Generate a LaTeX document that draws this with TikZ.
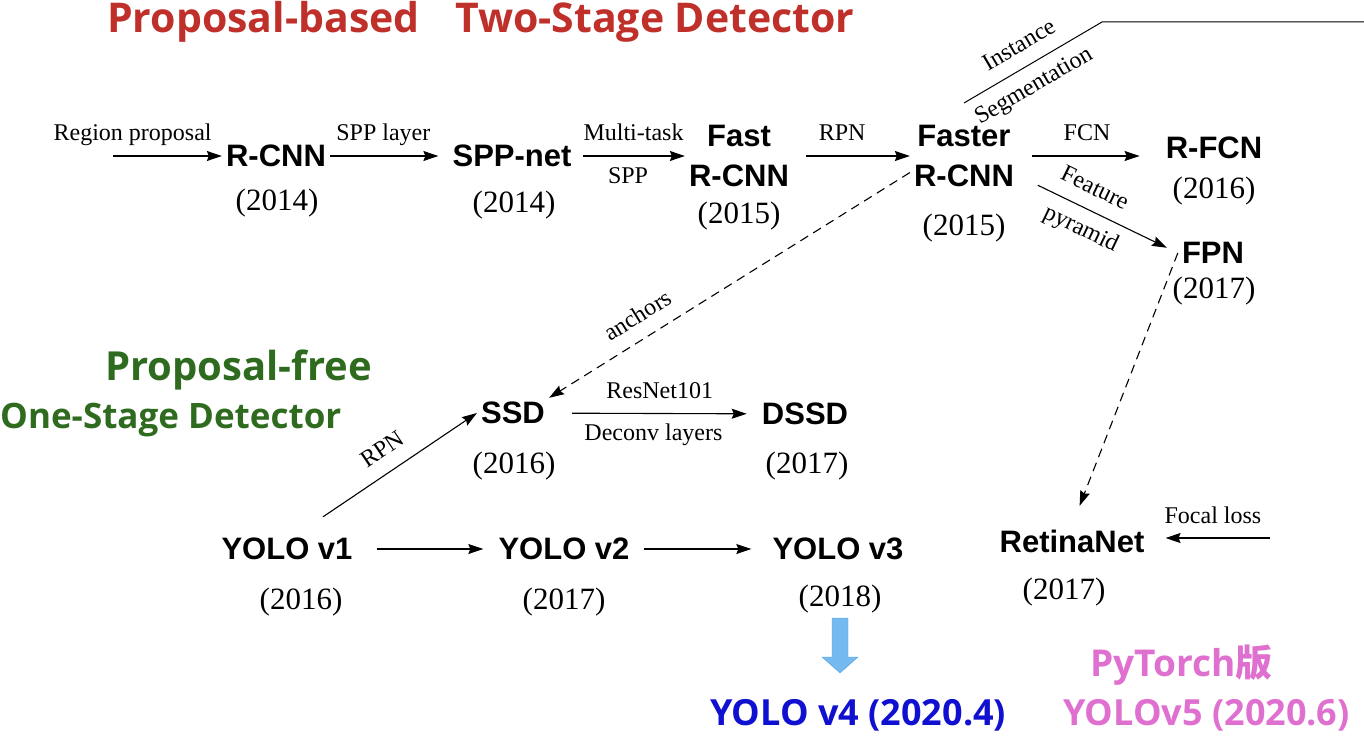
\documentclass[tikz,border=0pt]{standalone}
\usepackage{fontspec}
\setmainfont{Liberation Serif}
\setsansfont{Liberation Sans}
\newfontfamily\headfont{Open Sans}
\newfontfamily\cjkfont{Noto Sans CJK SC Bold}
\usetikzlibrary{arrows.meta}

\definecolor{headred}{HTML}{C0302A}
\definecolor{headgreen}{HTML}{2E6B1F}
\definecolor{vfourblue}{HTML}{1010D0}
\definecolor{vfivepink}{HTML}{E070D0}
\definecolor{fatblue}{HTML}{74BAF0}
\definecolor{fatedge}{HTML}{5AA0E0}

\tikzset{
  model/.style={font=\sffamily\bfseries\fontsize{31}{40}\selectfont, align=center, inner sep=4pt},
  year/.style={font=\fontsize{31}{31}\selectfont},
  lbl/.style={font=\fontsize{24}{24}\selectfont, inner sep=2pt, outer sep=8pt,
    text height=17pt, text depth=5pt},
  head/.style={font=\headfont\bfseries\fontsize{#1}{#1}\selectfont, anchor=base west, inner sep=0pt},
  head/.default=41,
  arr/.style={-{Stealth[length=15pt,width=10pt,inset=2pt]}, line width=1.1pt},
  dasharr/.style={arr, dash pattern=on 9pt off 6pt},
}

\begin{document}
\begin{tikzpicture}[x=1pt, y=-1pt]
  \useasboundingbox (0,0) rectangle (1364,738);

  % headings
  \node[head, text=headred] (pbased) at (107,33) {Proposal-based};
  \node[head, text=headred] (twostage) at (455,33) {Two-Stage Detector};
  \node[head=40, text=headgreen] (pfree) at (105,380) {Proposal-free};
  \node[head=35, text=headgreen] (onestage) at (0,428) {One-Stage Detector};

  % two-stage detectors
  \node[model] (rcnn) at (276,156) {R-CNN};
  \node[year] (rcnn-y) at (277,203) {(2014)};
  \node[model] (sppnet) at (512,156) {SPP-net};
  \node[year] (sppnet-y) at (514,205) {(2014)};
  \node[model] (fast) at (739,156) {Fast\\R-CNN};
  \node[year] (fast-y) at (739,216) {(2015)};
  \node[model] (faster) at (964,156) {Faster\\R-CNN};
  \node[year] (faster-y) at (964,228) {(2015)};
  \node[model] (rfcn) at (1214,148) {R-FCN};
  \node[year] (rfcn-y) at (1214,191) {(2016)};
  \node[model] (fpn) at (1213,253) {FPN};
  \node[year] (fpn-y) at (1214,291) {(2017)};

  % one-stage detectors
  \node[model] (ssd) at (513,413) {SSD};
  \node[year] (ssd-y) at (514,466) {(2016)};
  \node[model] (dssd) at (805,414) {DSSD};
  \node[year] (dssd-y) at (807,466) {(2017)};
  \node[model] (yolo1) at (287,549) {YOLO v1};
  \node[year] (yolo1-y) at (301,602) {(2016)};
  \node[model] (yolo2) at (564,549) {YOLO v2};
  \node[year] (yolo2-y) at (564,602) {(2017)};
  \node[model] (yolo3) at (838,549) {YOLO v3};
  \node[year] (yolo3-y) at (840,599) {(2018)};
  \node[model] (retina) at (1072,541) {RetinaNet};
  \node[year] (retina-y) at (1064,592) {(2017)};

  \coordinate (rp) at (113,156);
  \coordinate (segbend) at (1102,22);
  \coordinate (segend) at (1364,22);
  \coordinate (fl) at (1270,538);

  % connectors
  \draw[arr] (rp) -- node[lbl, above, pos=0.18] {Region proposal} (rcnn);
  \draw[arr, shorten >=10pt] (rcnn) -- node[lbl, above, pos=0.45] {SPP layer} (sppnet);
  \draw[arr, shorten <=7pt] (sppnet) -- node[lbl, above, pos=0.53] {Multi-task}
    node[lbl, below, pos=0.48] {SPP} (fast);
  \draw[arr, shorten <=13pt] (fast) -- node[lbl, above, pos=0.42] {RPN} (faster);
  \draw[line width=1pt] ([yshift=18pt]faster.north) -- node[lbl, sloped, above, pos=0.48] {Instance}
    node[lbl, sloped, below, pos=0.43] {Segmentation} (segbend) -- (segend);
  \draw[arr, shorten <=14pt, shorten >=22pt] (faster.east) -- node[lbl, above, pos=0.48] {FCN}
    (faster.east -| rfcn.west);
  \draw[arr, shorten <=22pt, shorten >=12pt] (faster.-20) -- node[lbl, sloped, above, pos=0.42] {Feature}
    node[lbl, sloped, below, pos=0.45] {pyramid} (fpn.west);
  \draw[dasharr, shorten >=21pt] (fpn.west) -- (retina.north);
  \draw[dasharr] (faster.197) -- node[lbl, sloped, above, pos=0.72] {anchors} (ssd.north east);
  \draw[arr] ([xshift=36pt,yshift=17pt]yolo1.north) -- node[lbl, sloped, above, pos=0.47] {RPN} (ssd.west);
  \draw[arr, shorten <=23pt, shorten >=11pt] (ssd) -- node[lbl, above, pos=0.53] {ResNet101}
    node[lbl, below, pos=0.5] {Deconv layers} (dssd);
  \draw[arr, shorten <=20pt, shorten >=11pt] (yolo1) -- (yolo2);
  \draw[arr, shorten <=10pt, shorten >=17pt] (yolo2) -- (yolo3);
  \draw[arr, shorten >=17pt] (fl) -- node[lbl, above, pos=0.47] {Focal loss} (fl -| retina.east);

  % later versions
  \fill[fatblue, draw=fatedge] (832,618) -- (848,618) -- (848,657) -- (858,657) -- (840,673)
    -- (822,657) -- (832,657) -- cycle;
  \node[head=36, text=vfourblue] (yolo4) at (710,725) {YOLO v4 (2020.4)};
  \node[head=37, text=vfivepink] (pytorch) at (1090,676) {PyTorch{\cjkfont 版}};
  \node[head=36, text=vfivepink] (yolo5) at (1063,725) {YOLOv5 (2020.6)};
\end{tikzpicture}
\end{document}
